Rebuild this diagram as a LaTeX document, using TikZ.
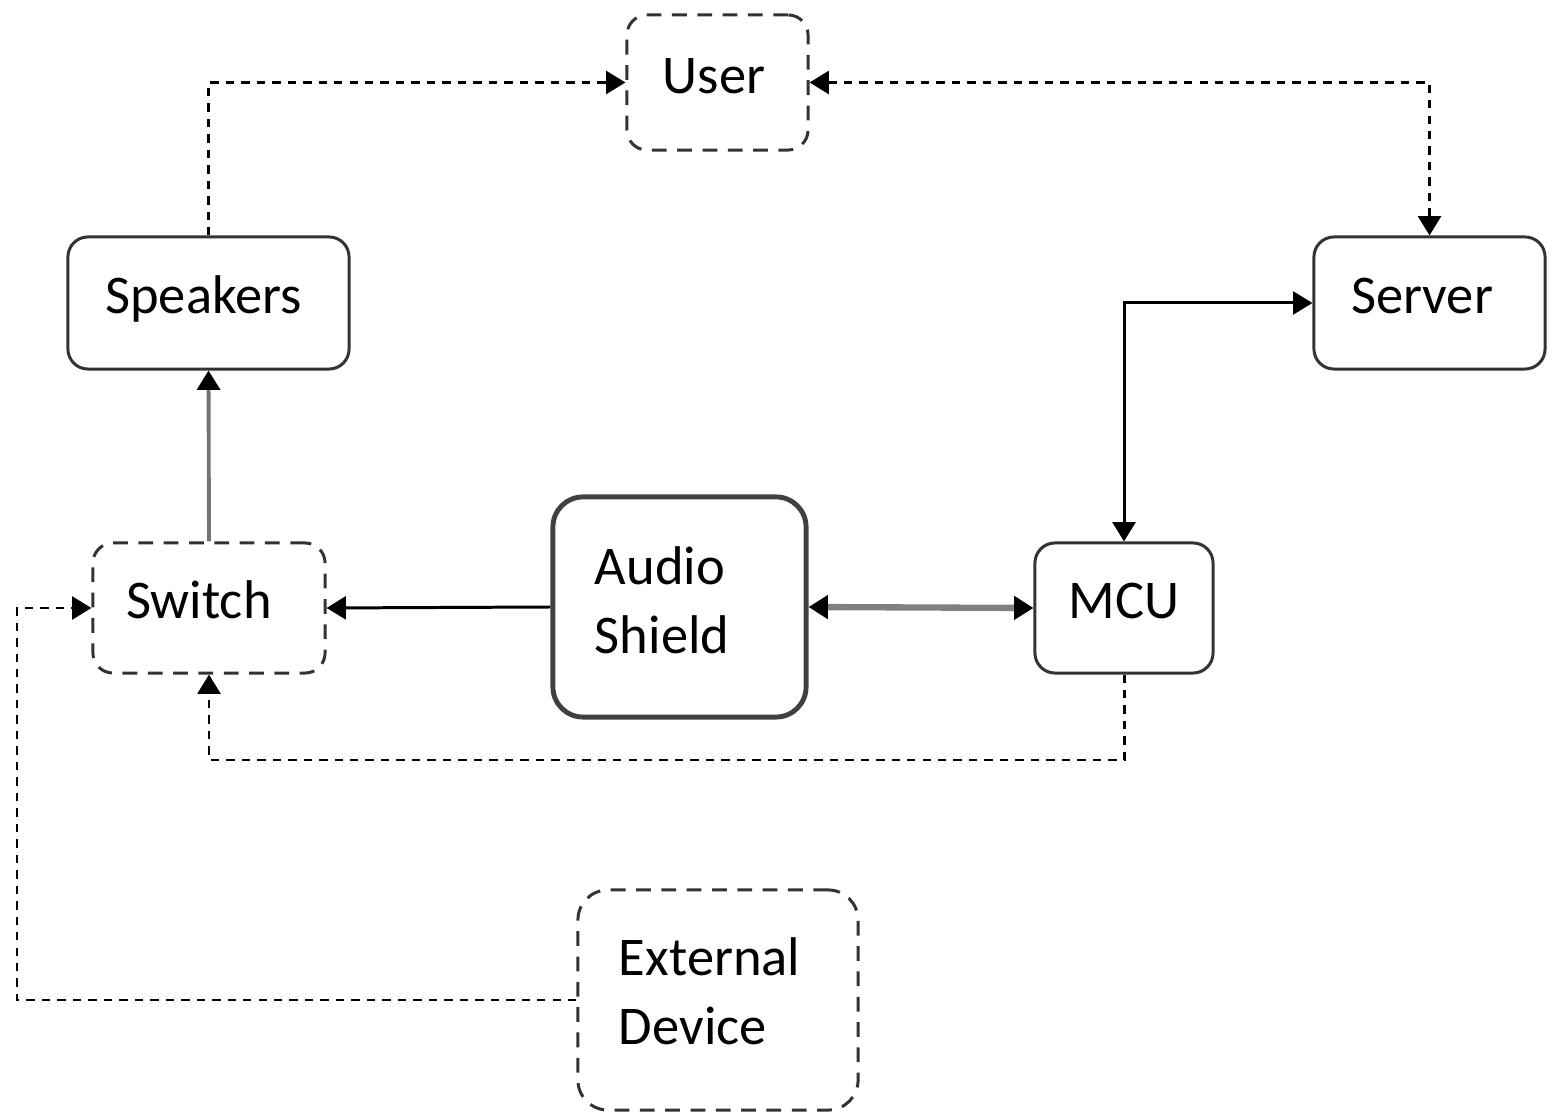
\documentclass[tikz,border=0pt]{standalone}
\usepackage{fontspec}
\setmainfont{Carlito}
\usetikzlibrary{arrows.meta}
\newcommand{\lowdepth}[1]{\rule[-#1]{0pt}{0pt}}
\tikzset{
  box/.style={draw=black!80, line width=0.85pt, rounded corners=0.2cm, fill=white,
    font=\fontsize{15.5pt}{19.6pt}\selectfont, text=black, inner sep=0pt},
  dbox/.style={box, dash pattern=on 4.2pt off 3pt},
  one/.style={text height=10pt, text depth=4pt},
  conn/.style={line width=0.85pt, draw=black, -{Triangle[length=5.5pt,width=6.5pt]}},
  dconn/.style={conn, dash pattern=on 2.4pt off 2pt},
  tip/.tip={Triangle[length=5.5pt,width=6.5pt,color=black]}
}
\begin{document}
\begin{tikzpicture}[x=0.01cm,y=-0.01cm]
\useasboundingbox (0,0) rectangle (1554,1113);
% nodes
\node[dbox, one, minimum width=1.81cm, minimum height=1.35cm] (user) at (717.5,82.5) {User\kern0.07cm};
\node[box, one, minimum width=2.81cm, minimum height=1.32cm] (spk) at (208.5,303) {Speakers\kern0.1cm};
\node[box, one, minimum width=2.31cm, minimum height=1.32cm] (srv) at (1429.5,303) {Server\kern0.15cm};
\node[dbox, one, minimum width=2.32cm, minimum height=1.30cm] (sw) at (209,608) {Switch\kern0.2cm};
\node[box, line width=1.4pt, draw=black!75, rounded corners=0.3cm,
      minimum width=2.53cm, minimum height=2.20cm, text width=1.69cm, align=left,
      inner xsep=0.42cm] (aud) at (679.5,607) {Audio\\Shield\lowdepth{4pt}};
\node[box, one, minimum width=1.78cm, minimum height=1.30cm] (mcu) at (1124,608) {MCU};
\node[dbox, rounded corners=0.3cm, minimum width=2.80cm, minimum height=2.20cm,
      text width=1.98cm, align=left, inner xsep=0.41cm] (ext) at (718,1000) {External\\Device\lowdepth{5pt}};
% helper coordinates
\coordinate (b1) at (1124,760);
\coordinate (b2) at (17,1000);
% connectors
\draw[dconn] (spk.north) |- (user.west);
\draw[dconn, tip-tip] (user.east) -| (srv.north);
\draw[conn, tip-tip] (srv.west) -| (mcu.north);
\draw[conn, draw=black!55, line width=1.1pt, -tip] (sw.north) -- (spk.south);
\draw[conn] (aud.west) -- (sw.east);
\draw[conn, draw=black!50, line width=1.8pt, tip-tip] (aud.east) -- (mcu.west);
\draw[dconn] (mcu.south) -- (b1) -| (sw.south);
\draw[dconn] (ext.west) -- (b2) |- (sw.west);
\end{tikzpicture}
\end{document}
